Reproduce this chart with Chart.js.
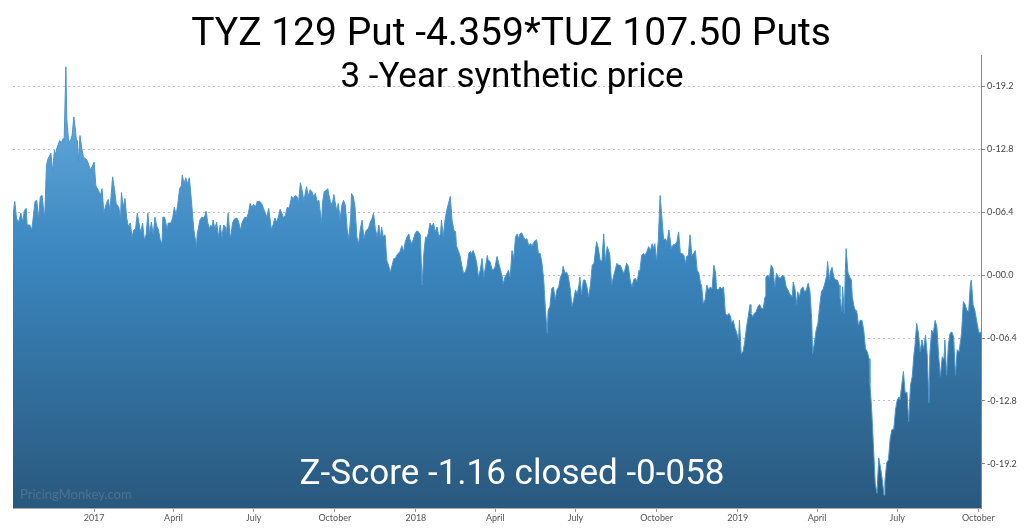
<!DOCTYPE html>
<html>
<head>
<meta charset="utf-8">
<script src="https://cdn.jsdelivr.net/npm/chart.js@4.4.1/dist/chart.umd.min.js"></script>
<style>
html, body { margin: 0; padding: 0; background: #fff; }
canvas { display: block; }
</style>
</head>
<body>
<canvas id="chart" width="1024" height="529"></canvas>
<script>
// day offsets counted from 1 Oct 2016, values of the synthetic price
var days = [
	0,2,4,6,9,11,13,15,16,19,21,22,25,27,29,31,33,35,36,38,40,43,45,47,48,50,53,55,57,58,
	60,61,63,65,67,69,71,72,73,74,76,78,80,84,88,91,92,94,97,99,101,103,106,108,110,113,115,117,120,122,
	123,125,127,129,131,133,135,137,139,141,144,145,147,149,151,153,155,157,159,161,163,165,167,169,170,172,175,176,179,181,
	183,185,187,189,191,192,194,196,198,200,201,203,205,208,209,
	212,214,216,218,219,221,223,224,226,227,229,231,233,235,237,239,241,242,244,246,
	247,249,251,254,256,258,260,263,265,267,269,271,273,275,277,280,282,285,288,290,
	293,295,297,299,301,303,305,307,309,311,313,314,316,318,320,322,324,326,328,330,
	331,333,335,337,339,341,343,345,347,348,350,351,353,355,357,358,360,362,364,365,
	367,369,371,373,375,377,379,381,383,384,386,388,390,392,394,396,398,400,401,403,
	405,407,409,411,413,415,417,418,420,422,424,426,428,430,432,434,435,437,439,
	441,443,445,447,449,450,452,454,456,458,460,462,464,466,468,469,471,473,475,477,
	479,481,483,485,486,488,490,492,494,496,498,500,502,503,505,507,509,511,513,515,
	517,519,520,522,524,526,528,530,532,534,536,538,539,541,543,545,547,549,551,553,
	555,556,558,560,562,564,566,568,570,572,573,575,577,579,581,583,585,587,589,590,
	592,594,596,598,600,602,604,606,607,609,611,613,615,617,619,621,623,624,626,628,
	630,632,634,636,638,640,642,643,645,647,649,651,653,655,
	657,659,660,662,664,666,668,670,672,674,676,677,679,681,683,685,687,689,691,693,
	694,696,698,700,702,704,706,708,710,711,713,715,717,719,721,723,725,727,728,730,
	732,734,736,738,740,742,744,746,747,749,751,753,755,757,759,761,763,764,766,768,
	770,772,774,776,778,780,781,783,785,787,789,791,793,795,797,798,800,802,804,806,
	808,810,812,814,815,817,819,821,823,824,826,828,830,832,834,836,837,839,841,843,
	845,847,849,851,853,854,856,858,860,862,864,866,868,870,871,873,875,877,879,881,
	884,885,887,889,890,892,894,896,898,900,902,904,906,907,909,911,913,915,917,919,
	921,923,924,926,927,929,931,933,935,937,938,940,941,943,944,945,947,949,951,952,
	954,956,957,959,961,963,965,967,969,971,972,974,976,978,980,982,984,986,988,989,
	991,993,995,997,999,1001,1003,1005,1006,1008,1010,1012,1014,1016,1018,1020,1022,1023,1025,1027,
	1029,1031,1033,1035,1037,1039,1040,1042,1044,1046,1048,1050,1052,1054,1056,1057,1059,1061,1063,1065,
	1067,1069,1071,1073,1075,1076,1078,1080,1082,1084,1086,1087,1089,1091,1093,1095,1096,1098
];
var values = [
	6.1,7.5,5.8,5.3,6.3,5.4,6.6,6.8,5.1,5.1,4.6,5.1,7.5,7.6,5.8,8.0,8.1,6.4,6.1,11.2,11.9,12.4,10.5,12.7,12.2,13.0,13.7,13.5,13.9,13.7,
	21.2,15.9,13.7,13.6,14.2,16.1,14.6,13.6,13.7,11.5,14.2,12.9,12.0,11.7,10.7,11.3,11.5,9.1,8.6,8.1,8.8,6.4,7.3,7.7,6.6,10.0,8.8,7.3,6.9,5.8,
	8.4,6.9,7.8,5.8,4.9,5.3,3.9,4.6,4.7,6.3,4.7,4.4,5.3,3.6,4.1,6.3,4.2,5.4,4.1,5.9,5.0,4.6,3.6,3.2,5.9,5.9,4.6,5.3,5.3,5.8,
	6.9,6.1,7.3,8.8,9.1,10.2,9.3,9.9,9.3,9.9,9.0,6.9,4.7,2.9,4.2,
	5.6,5.9,5.8,6.1,6.5,5.3,4.7,5.1,4.9,5.6,4.7,5.4,3.9,5.1,3.9,5.1,4.9,4.2,6.3,4.2,
	3.9,5.3,5.7,5.8,5.4,4.6,5.4,5.9,5.8,6.3,7.3,6.9,7.2,6.9,7.5,7.5,7.3,6.6,5.9,6.8,
	4.7,5.1,5.8,5.4,5.9,6.7,6.3,5.8,6.1,6.9,6.8,7.1,8.0,7.8,8.1,8.0,7.5,9.4,8.6,7.5,
	8.1,9.0,8.0,8.7,8.5,8.0,8.3,7.5,7.6,6.8,5.3,7.3,8.5,8.6,8.8,8.3,7.5,7.1,8.2,7.6,
	6.6,7.3,5.6,7.1,7.6,7.1,4.7,3.7,5.9,8.3,8.0,6.9,3.9,3.2,4.7,5.6,3.7,4.4,4.6,4.7,
	5.3,5.7,6.3,4.7,3.9,5.1,3.7,4.9,3.9,4.1,1.5,1.0,0.3,1.0,1.7,1.7,2.0,2.2,2.4,
	3.0,2.4,3.4,3.9,4.2,3.7,3.2,3.6,4.2,4.5,4.4,4.1,-1.0,2.2,3.9,3.7,4.2,5.3,4.9,5.3,
	4.4,4.9,3.9,4.2,5.6,3.9,5.6,6.6,7.3,8.0,5.6,4.6,4.4,3.0,2.5,2.0,1.0,0.2,0.3,0.9,
	2.2,2.4,2.2,2.5,2.0,1.2,-0.2,0.5,1.7,-0.2,0.9,2.0,1.5,1.4,0.7,0.5,0.9,1.9,1.2,0.5,
	-0.2,-0.9,-0.2,0.1,0.5,-0.2,2.5,1.7,3.9,4.2,3.7,4.2,4.3,3.9,3.6,3.7,3.0,3.2,3.0,3.2,
	3.5,3.6,2.2,2.2,1.2,-0.5,-3.6,-5.9,-3.6,-3.2,-1.4,-1.2,-2.5,-1.5,-1.2,-0.2,0.2,0.9,0.2,0.3,
	-0.2,-1.4,-3.2,-2.5,-1.5,-1.9,-1.0,-0.2,-2.0,-0.5,-0.5,-1.2,-2.2,-1.0,
	1.0,1.2,2.0,3.4,2.7,1.5,1.4,4.2,1.4,2.9,2.4,2.0,-1.0,-0.2,0.5,1.2,1.0,1.0,0.5,0.2,
	0.5,1.2,0.9,-0.5,-1.2,-0.5,-0.3,-0.7,0.5,0.3,2.0,2.2,2.0,2.4,2.9,2.5,3.2,2.7,3.2,1.5,
	3.6,8.1,5.9,3.6,3.7,3.4,4.6,3.2,2.7,3.1,3.1,3.4,4.4,2.2,2.2,2.0,1.2,1.9,2.0,4.1,
	2.0,2.2,2.5,0.5,0.2,-0.9,-1.0,-2.9,-2.5,-1.0,-1.5,-1.2,-1.4,1.0,0.2,-1.4,-1.5,-1.2,-1.4,-1.2,
	-3.9,-4.1,-3.9,-4.2,-4.9,-4.6,-5.4,-5.9,-6.6,-4.6,-8.0,-7.8,-6.8,-5.3,-4.2,-3.0,-3.9,-4.2,-3.9,-3.7,
	-3.2,-3.0,-3.4,-3.4,-2.2,-0.2,0.0,-0.3,1.0,0.7,-1.2,0.2,-0.2,-0.3,-0.3,0.0,-0.2,-1.2,-1.5,-1.9,
	-2.2,-0.7,-1.4,-3.0,-1.7,-2.2,-1.4,-1.2,-1.7,-1.5,-0.8,-1.7,-4.6,-8.0,-6.9,-5.6,-4.9,-3.2,-1.7,-1.4,
	-0.8,0.0,1.4,-0.5,0.3,0.8,-0.2,-0.5,-0.5,-1.0,-2.2,-3.7,-1.2,-3.9,0.2,2.7,0.3,-0.2,-0.5,-2.2,
	-3.2,-3.7,-3.6,-5.1,-4.6,-4.6,-5.6,-7.5,-7.8,-8.5,-11.0,-13.7,-17.4,-21.2,-22.2,-18.6,-19.6,-20.8,-22.4,-21.0,
	-19.1,-18.8,-16.6,-15.7,-15.7,-13.7,-12.7,-12.4,-12.7,-11.3,-9.8,-12.0,-11.9,-14.9,-11.2,-10.3,-8.0,-7.3,-4.9,-5.9,
	-7.8,-6.6,-7.5,-6.1,-8.1,-13.0,-8.0,-5.6,-5.9,-4.6,-5.3,-8.3,-10.3,-8.3,-8.6,-6.6,-10.2,-7.1,-5.9,-5.8,
	-6.3,-10.2,-7.6,-7.8,-6.6,-5.8,-2.7,-3.0,-3.6,-3.7,-0.85,-0.5,-3.0,-3.6,-4.6,-5.6,-5.9,-5.8
];

// quarter ticks on the time axis
var quarterDays = [92, 182, 273, 365, 457, 547, 638, 730, 822, 912, 1003, 1095];
var quarterLabels = ['2017', 'April', 'July', 'October', '2018', 'April', 'July', 'October', '2019', 'April', 'July', 'October'];

var yTicks = [-19.2, -12.8, -6.4, 0, 6.4, 12.8, 19.2];
var yLabels = ['-0-19.2', '-0-12.8', '-0-06.4', '0-00.0', '0-06.4', '0-12.8', '0-19.2'];

var titleText = 'TYZ 129 Put -4.359*TUZ 107.50 Puts';
var subtitleText = '3 -Year synthetic price';
var zscoreText = 'Z-Score -1.16 closed -0-058';
var watermarkText = 'PricingMonkey.com';

var points = days.map(function(d, i) { return {x: d, y: values[i]}; });

function areaFill(context) {
	var area = context.chart.chartArea;
	if (!area) return '#3a85bd';
	var g = context.chart.ctx.createLinearGradient(0, area.top, 0, area.bottom);
	g.addColorStop(0, '#6fb2e3');
	g.addColorStop(0.45, '#3a86bf');
	g.addColorStop(1, '#2a587d');
	return g;
}

var overlayText = {
	id: 'overlayText',
	afterDraw: function(chart) {
		var ctx = chart.ctx;
		ctx.save();
		ctx.textAlign = 'center';
		ctx.textBaseline = 'alphabetic';
		ctx.fillStyle = '#000';
		ctx.font = '39px Roboto';
		ctx.fillText(titleText, 511, 45);
		ctx.font = '35px Roboto';
		ctx.fillText(subtitleText, 512, 87);
		ctx.fillStyle = '#fff';
		ctx.font = '35px Roboto';
		ctx.fillText(zscoreText, 512, 484);
		ctx.textAlign = 'left';
		ctx.fillStyle = 'rgba(255,255,255,0.14)';
		ctx.font = '13px Lato';
		ctx.fillText(watermarkText, 20, 499);
		ctx.restore();
	}
};

var ctx = document.getElementById('chart').getContext('2d');
var chart = new Chart(ctx, {
	type: 'line',
	data: {
		datasets: [{
			data: points,
			borderColor: '#4b94cc',
			borderWidth: 1,
			backgroundColor: areaFill,
			fill: 'start',
			pointRadius: 0,
			tension: 0
		}]
	},
	options: {
		responsive: false,
		animation: false,
		devicePixelRatio: 1,
		layout: {padding: {left: 13, top: 55, right: 0, bottom: 0}},
		plugins: {legend: {display: false}, tooltip: {enabled: false}},
		scales: {
			x: {
				type: 'linear',
				min: 0,
				max: 1098,
				afterBuildTicks: function(s) { s.ticks = quarterDays.map(function(v) { return {value: v}; }); },
				afterFit: function(s) { s.height = 21; },
				ticks: {
					autoSkip: false, maxRotation: 0, padding: 1,
					font: {family: 'Lato', size: 9}, color: '#555',
					callback: function(v, i) { return quarterLabels[i]; }
				},
				grid: {drawOnChartArea: false, drawTicks: true, tickLength: 4, color: '#999', tickBorderDash: [1, 0]},
				border: {display: true, color: '#aaa'}
			},
			y: {
				type: 'linear',
				position: 'right',
				min: -23.7,
				max: 22.4,
				z: 1,
				afterBuildTicks: function(s) { s.ticks = yTicks.map(function(v) { return {value: v}; }); },
				afterFit: function(s) { s.width = 43; },
				ticks: {
					padding: 2,
					font: {family: 'Lato', size: 9}, color: '#444',
					callback: function(v, i) { return yLabels[i]; }
				},
				grid: {color: 'rgba(150,150,150,0.6)', tickColor: '#888', tickLength: 4, tickBorderDash: [1, 0]},
				border: {display: true, color: '#888', dash: [2, 3]}
			}
		}
	},
	plugins: [overlayText]
});
</script>
</body>
</html>
